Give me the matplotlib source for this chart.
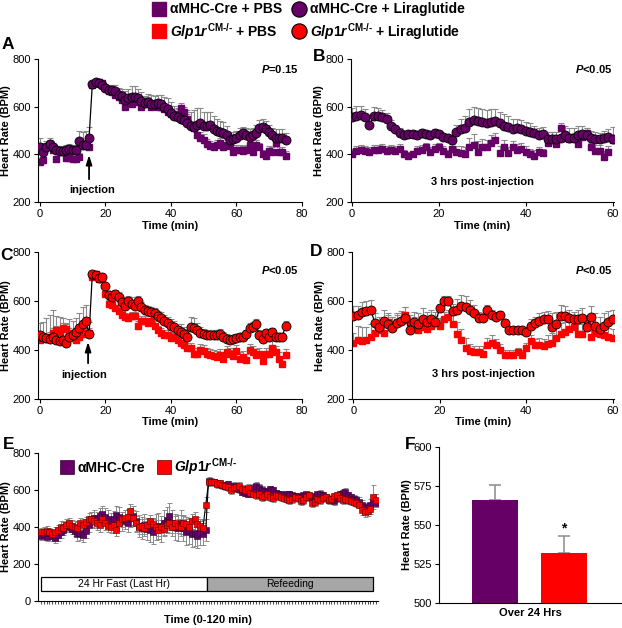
import matplotlib

matplotlib.use("Agg")
import matplotlib.pyplot as plt
import numpy as np
from matplotlib.lines import Line2D

PURPLE = "#660066"
RED = "#ff0000"
GREY = "#8a8a8a"

plt.rcParams.update({
    "font.family": ["Liberation Sans", "DejaVu Sans"],
    "font.size": 8,
    "mathtext.fontset": "custom",
    "mathtext.it": "Liberation Sans:italic:bold",
    "mathtext.rm": "Liberation Sans:bold",
    "mathtext.bf": "Liberation Sans:bold",
    "axes.linewidth": 0.8,
})

# --- panel A : aMHC-Cre, injection at 15 min (0-75 min) ---
A_CI = [430, 410, 430, 445, 430, 420, 415, 415, 420, 425,
        420, 420, 455, 440, 440, 470, 695, 705, 700, 690,
        680, 670, 670, 665, 650, 645, 630, 635, 640, 640,
        635, 625, 615, 620, 610, 610, 615, 610, 600, 590,
        575, 560, 555, 550, 545, 530, 520, 515, 525, 530,
        520, 520, 525, 505, 500, 495, 490, 480, 460, 465,
        470, 480, 490, 480, 475, 480, 490, 510, 515, 505,
        495, 480, 470, 470, 470, 460]
A_CI_ERR = [40, 25, 25, 25, 20, 15, 20, 15, 20, 20,
            20, 20, 45, 55, 60, 45, 10, 10, 10, 15,
            15, 20, 20, 25, 30, 30, 35, 40, 45, 45,
            40, 35, 30, 35, 40, 35, 35, 40, 40, 45,
            45, 45, 40, 45, 45, 55, 60, 70, 70, 65,
            60, 60, 55, 55, 50, 45, 45, 40, 35, 30,
            30, 30, 25, 30, 30, 30, 35, 35, 35, 35,
            30, 30, 35, 35, 35, 30]
A_SQ = [370, 375, 430, 445, 420, 380, 420, 410, 385, 385,
        380, 380, 390, 440, 440, 430, 690, 700, 705, 700,
        680, 665, 660, 650, 640, 630, 600, 620, 610, 620,
        625, 600, 610, 620, 600, 610, 600, 600, 590, 580,
        570, 560, 570, 595, 580, 550, 520, 510, 480, 470,
        460, 445, 435, 430, 440, 450, 430, 440, 435, 410,
        420, 420, 415, 420, 440, 410, 440, 430, 400, 395,
        415, 410, 450, 410, 410, 395]
A_SQ_ERR = [15, 15, 20, 15, 15, 15, 15, 15, 15, 15,
            15, 15, 15, 20, 20, 15, 10, 10, 10, 10,
            10, 10, 10, 15, 15, 15, 20, 20, 20, 20,
            20, 20, 20, 20, 20, 20, 20, 20, 20, 20,
            20, 20, 20, 20, 20, 20, 20, 20, 25, 25,
            25, 20, 20, 20, 20, 20, 20, 20, 20, 20,
            20, 20, 20, 20, 20, 20, 20, 20, 20, 20,
            20, 20, 20, 20, 20, 20]

# --- panel B : aMHC-Cre, 3 hrs post-injection (0-60 min) ---
B_CI = [555, 560, 565, 555, 525, 560, 560, 555, 550, 520,
        505, 490, 480, 485, 485, 480, 490, 485, 480, 490,
        485, 475, 470, 460, 495, 505, 510, 535, 545, 540,
        535, 530, 535, 540, 530, 520, 515, 505, 510, 505,
        500, 495, 490, 480, 485, 465, 465, 465, 470, 480,
        470, 470, 480, 485, 480, 470, 465, 465, 470, 475,
        465]
B_CI_ERR = [40, 45, 40, 35, 30, 40, 35, 30, 25, 25,
            20, 20, 15, 15, 15, 15, 15, 15, 15, 15,
            15, 15, 15, 20, 30, 45, 50, 55, 55, 55,
            55, 55, 55, 50, 50, 50, 45, 45, 40, 40,
            35, 35, 30, 30, 30, 30, 30, 30, 40, 40,
            40, 40, 40, 35, 30, 30, 30, 25, 30, 30,
            50]
B_SQ = [400, 415, 420, 415, 410, 420, 420, 425, 415, 420,
        415, 425, 400, 395, 400, 415, 420, 430, 410, 425,
        430, 415, 400, 425, 410, 405, 400, 430, 440, 410,
        430, 430, 450, 460, 405, 430, 405, 430, 420, 425,
        410, 400, 395, 410, 405, 450, 470, 445, 510, 470,
        465, 470, 445, 475, 490, 430, 415, 415, 390, 410,
        460]
B_SQ_ERR = [25, 20, 20, 20, 20, 20, 20, 20, 20, 20,
            20, 20, 20, 15, 15, 20, 20, 20, 20, 20,
            20, 20, 20, 20, 25, 30, 30, 40, 45, 45,
            35, 30, 30, 30, 30, 30, 25, 25, 25, 25,
            25, 25, 25, 20, 20, 20, 25, 25, 20, 20,
            20, 20, 25, 25, 20, 20, 25, 25, 25, 25,
            20]

# --- panel C : Glp1r CM-/-, injection at 15 min ---
C_CI = [460, 455, 450, 445, 455, 440, 435, 440, 430, 455,
        460, 475, 490, 505, 520, 465, 710, 705, 695, 700,
        660, 625, 615, 630, 615, 595, 580, 600, 590, 580,
        600, 575, 565, 560, 555, 550, 540, 530, 520, 510,
        500, 495, 480, 475, 465, 455, 495, 490, 480, 470,
        465, 460, 460, 460, 460, 465, 455, 445, 440, 445,
        450, 455, 455, 465, 490, 495, 505, 460, 445, 470,
        455, 475, 455, 455, 455, 500]
C_CI_ERR = [50, 60, 80, 100, 110, 100, 100, 90, 80, 70,
            60, 55, 60, 70, 65, 50, 10, 10, 10, 10,
            10, 15, 20, 15, 20, 20, 20, 20, 25, 25,
            20, 20, 20, 20, 20, 20, 20, 25, 25, 25,
            25, 25, 25, 30, 30, 30, 40, 40, 30, 25,
            20, 20, 20, 20, 20, 20, 20, 20, 15, 15,
            15, 15, 15, 15, 20, 20, 20, 20, 20, 15,
            15, 15, 15, 15, 15, 20]
C_SQ = [440, 450, 445, 455, 470, 480, 475, 490, 485, 470,
        450, 440, 455, 465, 470, 470, 700, 710, 690, 690,
        630, 590, 585, 570, 560, 545, 535, 530, 540, 540,
        500, 520, 520, 510, 520, 500, 480, 470, 460, 460,
        450, 455, 440, 430, 420, 410, 410, 385, 385, 400,
        395, 385, 380, 375, 370, 380, 365, 390, 385, 375,
        395, 365, 370, 360, 400, 390, 380, 385, 355, 385,
        385, 410, 390, 365, 345, 380]
C_SQ_ERR = [20, 20, 20, 20, 20, 20, 20, 20, 20, 20,
            20, 20, 20, 20, 20, 20, 10, 10, 10, 10,
            10, 15, 15, 15, 15, 15, 15, 15, 15, 15,
            20, 20, 20, 20, 20, 20, 20, 20, 20, 20,
            20, 20, 20, 20, 20, 20, 20, 25, 25, 25,
            25, 25, 25, 25, 25, 25, 25, 25, 25, 25,
            25, 25, 25, 25, 25, 25, 25, 25, 25, 25,
            25, 25, 25, 25, 25, 25]

# --- panel D : Glp1r CM-/-, 3 hrs post-injection ---
D_CI = [540, 545, 555, 560, 565, 510, 495, 520, 505, 490,
        510, 520, 530, 480, 515, 505, 525, 515, 525, 515,
        570, 600, 600, 560, 565, 580, 575, 565, 550, 530,
        530, 565, 545, 535, 545, 510, 480, 480, 480, 480,
        475, 500, 510, 520, 525, 525, 495, 505, 540, 540,
        530, 525, 525, 530, 495, 535, 500, 485, 500, 515,
        525]
D_CI_ERR = [40, 35, 40, 40, 40, 40, 40, 45, 45, 45,
            40, 40, 45, 45, 40, 45, 45, 40, 40, 40,
            20, 20, 20, 30, 45, 45, 45, 40, 35, 25,
            20, 20, 20, 20, 15, 15, 15, 15, 15, 15,
            20, 25, 25, 30, 30, 35, 55, 50, 45, 40,
            35, 30, 40, 40, 45, 45, 50, 50, 50, 45,
            40]
D_SQ = [430, 440, 435, 440, 455, 470, 480, 470, 515, 505,
        515, 520, 545, 515, 505, 480, 495, 485, 500, 510,
        500, 525, 535, 505, 465, 440, 410, 395, 390, 390,
        385, 420, 430, 420, 400, 380, 380, 380, 390, 380,
        410, 435, 420, 420, 415, 425, 430, 450, 465, 475,
        485, 495, 465, 465, 510, 455, 470, 465, 460, 455,
        450]
D_SQ_ERR = [40, 60, 60, 55, 50, 45, 40, 35, 30, 30,
            30, 30, 30, 30, 30, 35, 30, 30, 30, 30,
            30, 30, 30, 40, 50, 45, 40, 30, 25, 25,
            30, 30, 30, 25, 25, 20, 20, 20, 20, 20,
            20, 25, 25, 30, 30, 35, 40, 45, 45, 40,
            40, 40, 40, 40, 35, 40, 35, 35, 30, 35,
            35]

# --- panel E : fasting / refeeding (0-120 min) ---
E_PUR = [350, 360, 345, 365, 350, 340, 355, 370, 385, 400,
         405, 390, 380, 360, 365, 355, 380, 410, 440, 450,
         440, 460, 470, 455, 445, 430, 440, 465, 455, 430,
         440, 420, 450, 460, 430, 405, 395, 410, 390, 385,
         375, 400, 405, 390, 420, 435, 460, 420, 400, 395,
         420, 395, 370, 380, 360, 365, 350, 365, 360, 385,
         650, 645, 640, 635, 630, 625, 620, 630, 615, 620,
         610, 605, 590, 585, 580, 600, 610, 620, 610, 600,
         595, 590, 605, 600, 585, 580, 575, 570, 575, 580,
         570, 565, 565, 560, 570, 575, 560, 555, 565, 575,
         580, 570, 560, 545, 550, 540, 555, 575, 585, 590,
         570, 560, 550, 545, 535, 520, 505, 500, 520, 535,
         530]
E_PUR_ERR = [20, 20, 20, 25, 25, 25, 30, 30, 30, 30,
             30, 30, 30, 35, 35, 35, 40, 40, 40, 40,
             40, 40, 45, 45, 45, 45, 45, 50, 50, 50,
             50, 50, 50, 55, 55, 60, 60, 60, 60, 65,
             65, 70, 70, 70, 70, 70, 70, 70, 70, 70,
             70, 70, 70, 70, 70, 70, 65, 65, 60, 60,
             20, 20, 20, 20, 20, 20, 20, 20, 20, 20,
             20, 20, 20, 20, 20, 20, 20, 20, 20, 20,
             15, 15, 15, 15, 15, 15, 15, 15, 15, 15,
             15, 15, 15, 15, 15, 15, 15, 15, 15, 15,
             20, 20, 20, 20, 20, 20, 20, 20, 20, 20,
             20, 20, 20, 20, 25, 25, 25, 25, 30, 30,
             25]
E_RED = [370, 375, 380, 370, 360, 375, 385, 400, 395, 410,
         420, 405, 400, 395, 420, 410, 425, 440, 445, 430,
         420, 410, 440, 420, 405, 400, 410, 385, 420, 440,
         450, 455, 485, 450, 420, 400, 405, 395, 410, 430,
         415, 400, 385, 400, 390, 410, 420, 400, 420, 405,
         400, 420, 415, 400, 430, 440, 415, 405, 395, 520,
         640, 645, 640, 630, 635, 625, 620, 615, 600, 610,
         615, 620, 605, 600, 610, 585, 580, 570, 575, 560,
         565, 575, 560, 555, 570, 565, 560, 555, 550, 545,
         550, 560, 555, 540, 545, 560, 570, 530, 535, 550,
         545, 555, 560, 545, 550, 565, 570, 555, 545, 550,
         545, 540, 535, 530, 520, 490, 480, 485, 495, 560,
         545]
E_RED_ERR = [25, 25, 25, 25, 25, 25, 25, 30, 30, 30,
             30, 30, 30, 30, 30, 30, 30, 35, 35, 35,
             35, 35, 35, 35, 35, 35, 35, 35, 40, 40,
             40, 40, 40, 40, 40, 40, 35, 35, 35, 35,
             35, 35, 35, 35, 35, 35, 35, 35, 40, 40,
             40, 40, 40, 40, 40, 40, 40, 40, 40, 40,
             20, 20, 20, 20, 20, 20, 20, 20, 20, 20,
             20, 20, 20, 20, 20, 20, 20, 20, 20, 20,
             20, 20, 20, 20, 20, 20, 20, 20, 20, 20,
             20, 20, 20, 20, 20, 20, 20, 20, 20, 20,
             20, 20, 20, 20, 20, 20, 20, 20, 20, 20,
             20, 20, 20, 20, 20, 25, 25, 25, 25, 65,
             30]

# --- panel F : mean over 24 hrs ---
F_MEAN = [566, 532]
F_ERR = [10, 11]

# hyphen (U+2010) so mathtext keeps a short dash in the superscript
GLP = "$\\it{Glp1r}^{\\rm{CM\u2010/\u2010}}$"


def style(ax, xlim, xticks):
    for s in ("top", "right"):
        ax.spines[s].set_visible(False)
    ax.set_xlim(*xlim)
    ax.set_xticks(xticks)
    ax.set_ylim(200, 800)
    ax.set_yticks([200, 400, 600, 800])
    ax.tick_params(direction="out", length=3, width=0.8, labelsize=8, pad=2)
    ax.set_ylabel("Heart Rate (BPM)", fontsize=8, fontweight="bold", labelpad=1)
    ax.set_xlabel("Time (min)", fontsize=8, fontweight="bold", labelpad=1)


def time_panel(ax, sq, sq_err, ci, ci_err, col):
    t_sq = np.arange(len(sq))
    t_ci = np.arange(len(ci))
    ax.errorbar(t_ci, ci, yerr=[np.zeros(len(ci)), ci_err], fmt="none",
                ecolor=GREY, elinewidth=0.8, capsize=2, capthick=0.8, zorder=1)
    ax.errorbar(t_sq, sq, yerr=[np.zeros(len(sq)), sq_err], fmt="none",
                ecolor=GREY, elinewidth=0.8, capsize=2, capthick=0.8, zorder=1)
    ax.plot(t_sq, sq, "s", color=col, ms=4.2, mec=col, zorder=2)
    ax.plot(t_ci, ci, "-", color="k", lw=0.9, zorder=3)
    ax.plot(t_ci, ci, "o", mfc=col, mec="k", mew=0.6, ms=6.5, zorder=4)


fig = plt.figure(figsize=(6.22, 6.28), dpi=100)

axA = fig.add_axes([0.0605, 0.678, 0.425, 0.228])
axB = fig.add_axes([0.5638, 0.678, 0.4233, 0.228])
axC = fig.add_axes([0.0605, 0.3646, 0.425, 0.234])
axD = fig.add_axes([0.5660, 0.3646, 0.4211, 0.234])

time_panel(axA, A_SQ, A_SQ_ERR, A_CI, A_CI_ERR, PURPLE)
time_panel(axB, B_SQ, B_SQ_ERR, B_CI, B_CI_ERR, PURPLE)
time_panel(axC, C_SQ, C_SQ_ERR, C_CI, C_CI_ERR, RED)
time_panel(axD, D_SQ, D_SQ_ERR, D_CI, D_CI_ERR, RED)

style(axA, (-0.7, 80), [0, 20, 40, 60, 80])
style(axB, (-0.3, 60.3), [0, 20, 40, 60])
style(axC, (-0.7, 80), [0, 20, 40, 60, 80])
style(axD, (-0.3, 60.3), [0, 20, 40, 60])

arrow = dict(arrowstyle="-|>,head_width=0.22,head_length=0.7", color="k", lw=1.3)
axA.annotate("", xy=(15, 410), xytext=(15, 285), arrowprops=arrow)
axA.text(16, 250, "injection", ha="center", va="center", fontsize=8, fontweight="bold")
axC.annotate("", xy=(14.7, 445), xytext=(14.7, 335), arrowprops=arrow)
axC.text(13.5, 300, "injection", ha="center", va="center", fontsize=8, fontweight="bold")
axB.text(30, 285, "3 hrs post-injection", ha="center", va="center", fontsize=8, fontweight="bold")
axD.text(30, 303, "3 hrs post-injection", ha="center", va="center", fontsize=8, fontweight="bold")

axA.text(79, 760, r"$\it{P}$=0.15", ha="right", va="center", fontsize=8, fontweight="bold")
axB.text(60, 760, r"$\it{P}$<0.05", ha="right", va="center", fontsize=8, fontweight="bold")
axC.text(79, 725, r"$\it{P}$<0.05", ha="right", va="center", fontsize=8, fontweight="bold")
axD.text(60, 725, r"$\it{P}$<0.05", ha="right", va="center", fontsize=8, fontweight="bold")

# --- E ---
axE = fig.add_axes([0.0611, 0.043, 0.547, 0.236])
tE = np.arange(len(E_PUR))
axE.errorbar(tE, E_PUR, yerr=E_PUR_ERR, fmt="none", ecolor=GREY,
             elinewidth=0.7, capsize=1.8, capthick=0.7, zorder=1)
axE.errorbar(tE, E_RED, yerr=E_RED_ERR, fmt="none", ecolor=GREY,
             elinewidth=0.7, capsize=1.8, capthick=0.7, zorder=1)
axE.plot(tE, E_PUR, "-", color="k", lw=0.8, zorder=2)
axE.plot(tE, E_RED, "-", color="k", lw=0.8, zorder=2)
axE.plot(tE, E_PUR, "s", mfc=PURPLE, mec="#300030", mew=0.4, ms=4.8, zorder=3)
axE.plot(tE, E_RED, "s", mfc=RED, mec="#600000", mew=0.4, ms=4.8, zorder=4)
axE.add_patch(plt.Rectangle((0, 55), 59.5, 75, facecolor="white", edgecolor="k", lw=0.9, zorder=2))
axE.add_patch(plt.Rectangle((59.5, 55), 59.5, 75, facecolor="#a6a6a6", edgecolor="k", lw=0.9, zorder=2))
axE.text(29.75, 92, "24 Hr Fast (Last Hr)", ha="center", va="center", fontsize=7.5)
axE.text(89.25, 92, "Refeeding", ha="center", va="center", fontsize=7.5)
for s in ("top", "right"):
    axE.spines[s].set_visible(False)
axE.set_xlim(-1.1, 120.8)
axE.set_ylim(0, 800)
axE.set_yticks([0, 200, 400, 600, 800])
axE.set_xticks(np.arange(0, 121, 1))
axE.set_xticklabels([])
axE.tick_params(axis="x", direction="out", length=2.5, width=0.5)
axE.tick_params(axis="y", direction="out", length=3, width=0.8, labelsize=8, pad=2)
axE.set_ylabel("Heart Rate (BPM)", fontsize=8, fontweight="bold", labelpad=1)
axE.set_xlabel("Time (0-120 min)", fontsize=8, fontweight="bold", labelpad=4)
hE = [Line2D([], [], ls="none", marker="s", ms=10, mfc=PURPLE, mec="#300030", mew=0.5),
      Line2D([], [], ls="none", marker="s", ms=10, mfc=RED, mec="#600000", mew=0.5)]
axE.legend(hE, ["\u03b1MHC-Cre", GLP], loc="upper left", bbox_to_anchor=(0.03, 1.06),
           ncol=2, frameon=False, handlelength=0.9, handletextpad=0.3,
           columnspacing=0.9, prop={"size": 10, "weight": "bold"})

# --- F ---
axF = fig.add_axes([0.706, 0.040, 0.292, 0.248])
xF = np.arange(len(F_MEAN))
axF.bar(xF, F_MEAN, width=0.67, color=[PURPLE, RED], zorder=2)
axF.errorbar(xF, F_MEAN, yerr=[np.zeros(len(F_ERR)), F_ERR], fmt="none",
             ecolor=GREY, elinewidth=1.1, capsize=4, capthick=1.1, zorder=1)
axF.text(xF[1], F_MEAN[1] + F_ERR[1], "*", ha="center", va="bottom",
         fontsize=10, fontweight="bold")
for s in ("top", "right"):
    axF.spines[s].set_visible(False)
axF.set_xlim(-0.81, 1.83)
axF.set_ylim(500, 600)
axF.set_yticks([500, 525, 550, 575, 600])
axF.set_xticks([])
axF.tick_params(direction="out", length=3, width=0.8, labelsize=8, pad=2)
axF.set_ylabel("Heart Rate (BPM)", fontsize=8, fontweight="bold", labelpad=1)
axF.set_xlabel("Over 24 Hrs", fontsize=8, fontweight="bold", labelpad=4)

# --- panel letters ---
for lbl, x, y in [("A", 0.002, 0.917), ("B", 0.503, 0.898), ("C", 0.0, 0.582),
                  ("D", 0.498, 0.588), ("E", 0.004, 0.281), ("F", 0.651, 0.281)]:
    fig.text(x, y, lbl, fontsize=12.5, fontweight="bold", ha="left", va="bottom")

# --- top legend ---
hTop = [Line2D([], [], ls="none", marker="s", ms=10, mfc=PURPLE, mec=PURPLE),
        Line2D([], [], ls="none", marker="s", ms=10, mfc=RED, mec=RED),
        Line2D([], [], ls="none", marker="o", ms=11, mfc=PURPLE, mec="k", mew=0.8),
        Line2D([], [], ls="none", marker="o", ms=11, mfc=RED, mec="k", mew=0.8)]
lTop = ["\u03b1MHC-Cre + PBS", GLP + " + PBS",
        "\u03b1MHC-Cre + Liraglutide", GLP + " + Liraglutide"]
fig.legend(hTop, lTop, loc="upper left", bbox_to_anchor=(0.226, 1.016), ncol=2,
           frameon=False, handlelength=0.9, handletextpad=0.3, columnspacing=0.8,
           labelspacing=0.3, prop={"size": 10, "weight": "bold"})

fig.savefig("out.png", dpi=100, facecolor="white")
